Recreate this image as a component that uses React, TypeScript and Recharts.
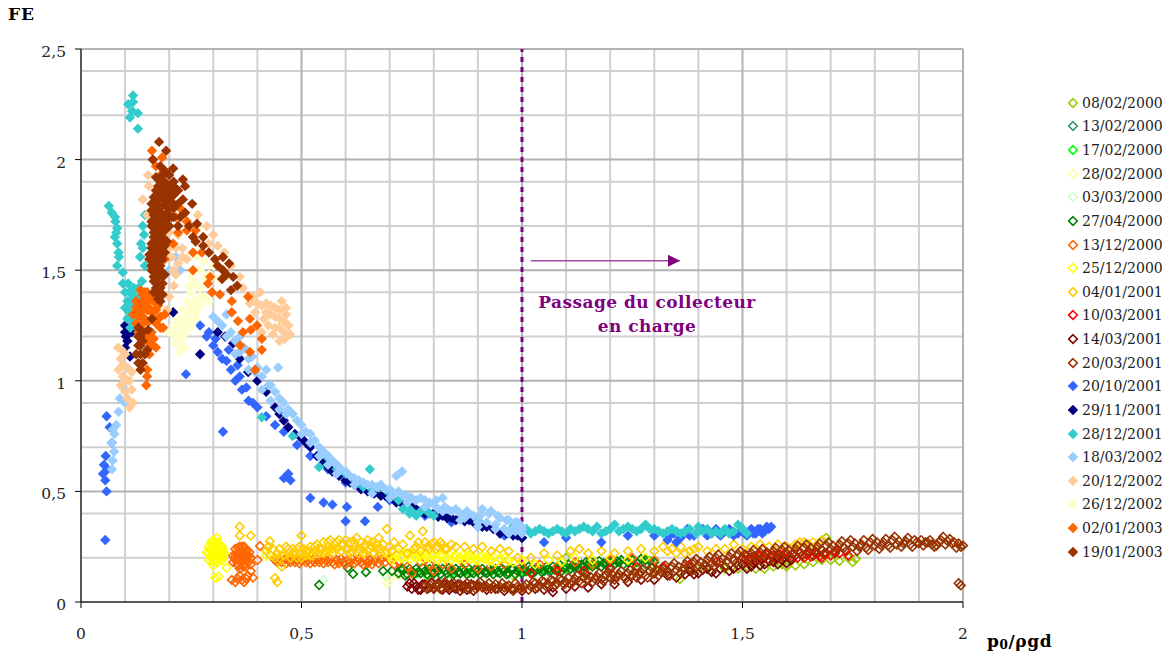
import { CartesianGrid, Legend, ReferenceLine, Scatter, ScatterChart, XAxis, YAxis } from "recharts";

type Pt = [number, number];

const xTicks = [0, 0.5, 1, 1.5, 2];
const yTicks = [0, 0.5, 1, 1.5, 2, 2.5];
const minorX = [0.1, 0.2, 0.3, 0.4, 0.6, 0.7, 0.8, 0.9, 1.1, 1.2, 1.3, 1.4, 1.6, 1.7, 1.8, 1.9];
const minorY = [0.1, 0.2, 0.3, 0.4, 0.6, 0.7, 0.8, 0.9, 1.1, 1.2, 1.3, 1.4, 1.6, 1.7, 1.8, 1.9, 2.1, 2.2, 2.3, 2.4];

const d080200: Pt[] = [[0.98,.12],[1.02,.13],[1.08,.14],[1.1,.2],[1.14,.13],[1.2,.15],[1.26,.15],[1.3,.14],[1.358,.104],[1.4,.15],[1.43,.14],[1.46,.15],[1.49,.15],[1.51,.16],[1.53,.15],[1.55,.15],[1.57,.16],[1.59,.17],[1.6,.16],[1.62,.165],[1.64,.17],[1.66,.18],[1.68,.19],[1.69,.29],[1.7,.19],[1.72,.185],[1.74,.2],[1.757,.195],[1.75,.18]];
const d130200: Pt[] = [[0.8,.14],[0.86,.13],[0.92,.14],[1,.13],[1.06,.14],[1.12,.15],[1.2,.16],[1.28,.17]];
const d170200: Pt[] = [[0.73,.14],[0.76,.13],[0.785,.12],[0.8,.13],[0.84,.125],[0.88,.13],[0.94,.14],[1,.14],[1.05,.15],[1.1,.15],[1.15,.16]];
const d280200: Pt[] = [[0.36,.22],[0.42,.21],[0.5,.22],[0.6,.21],[0.695,.085],[0.7,.11],[0.72,.12],[0.78,.19],[0.86,.19],[0.94,.18],[1,.18]];
const d030300: Pt[] = [[0.55,.1],[0.69,.12],[0.72,.14],[0.78,.12],[0.83,.13],[0.88,.12],[0.93,.13],[0.97,.12],[1.02,.13]];
const d270400: Pt[] = [[0.54,.077],[0.605,.155],[0.617,.127],[0.646,.135],[0.685,.14],[0.705,.14],[0.72,.13],[0.725,.15],[0.73,.15],[0.735,.12],[0.74,.125],[0.745,.15],[0.75,.14],[0.755,.125],[0.76,.15],[0.765,.135],[0.77,.13],[0.775,.155],[0.78,.14],[0.785,.125],[0.79,.15],[0.795,.135],[0.8,.13],[0.805,.15],[0.81,.14],[0.815,.125],[0.82,.15],[0.825,.14],[0.83,.13],[0.835,.155],[0.84,.14],[0.845,.125],[0.85,.15],[0.855,.135],[0.86,.13],[0.865,.15],[0.87,.14],[0.875,.125],[0.88,.15],[0.885,.135],[0.89,.13],[0.895,.15],[0.9,.14],[0.905,.125],[0.91,.15],[0.915,.135],[0.92,.13],[0.925,.15],[0.93,.14],[0.935,.125],[0.94,.15],[0.945,.135],[0.95,.13],[0.955,.15],[0.96,.14],[0.965,.125],[0.97,.13],[0.975,.15],[0.98,.15],[0.985,.125],[0.99,.14],[0.995,.15],[1,.13],[1.005,.15],[1.01,.14],[1.015,.16],[1.02,.15],[1.025,.13],[1.03,.14],[1.035,.16],[1.04,.15],[1.045,.135],[1.05,.14],[1.055,.16],[1.06,.15],[1.065,.14],[1.07,.16],[1.075,.145],[1.08,.15],[1.085,.17],[1.09,.14],[1.095,.155],[1.1,.16],[1.105,.17],[1.11,.15],[1.115,.165],[1.12,.16],[1.125,.175],[1.13,.15],[1.135,.17],[1.14,.16],[1.145,.18],[1.15,.17],[1.155,.185],[1.16,.16],[1.165,.18],[1.17,.17],[1.175,.185],[1.18,.16],[1.185,.175],[1.19,.17],[1.195,.185],[1.2,.18],[1.205,.19],[1.21,.17],[1.215,.185],[1.22,.18],[1.225,.19],[1.23,.17],[1.24,.18],[1.25,.19],[1.26,.18],[1.27,.195],[1.28,.19],[1.29,.185],[1.3,.18]];
const d131200: Pt[] = [[0.342,.1],[0.35,.09],[0.36,.12],[0.365,.1],[0.37,.09],[0.378,.12],[0.385,.14],[0.39,.11],[0.375,.105],[0.355,.105],[0.345,.18],[0.345,.21],[0.35,.24],[0.35,.19],[0.355,.17],[0.355,.22],[0.36,.2],[0.36,.25],[0.365,.18],[0.365,.23],[0.37,.16],[0.37,.21],[0.37,.25],[0.375,.19],[0.375,.23],[0.38,.18],[0.38,.21],[0.385,.2],[0.385,.17],[0.36,.15],[0.352,.215],[0.358,.19],[0.362,.225],[0.368,.195],[0.372,.175],[0.378,.205],[0.382,.225],[0.348,.2],[0.356,.245],[0.366,.25],[0.374,.21],[0.366,.165],[0.358,.165],[0.4,.19],[0.406,.253],[0.44,.19],[0.445,.18],[0.45,.195],[0.455,.18],[0.46,.19],[0.465,.175],[0.47,.19],[0.475,.18],[0.48,.195],[0.485,.18],[0.49,.19],[0.495,.175],[0.5,.185],[0.505,.195],[0.51,.18],[0.515,.19],[0.52,.175],[0.525,.19],[0.53,.18],[0.535,.195],[0.54,.18],[0.545,.19],[0.55,.175],[0.555,.19],[0.56,.18],[0.565,.195],[0.57,.18],[0.575,.17],[0.58,.19],[0.585,.175],[0.59,.195],[0.595,.18],[0.6,.17],[0.605,.19],[0.61,.18],[0.615,.195],[0.62,.175],[0.625,.185],[0.63,.195],[0.635,.18],[0.64,.17],[0.645,.19],[0.65,.175],[0.655,.19],[0.66,.17],[0.665,.185],[0.67,.195],[0.675,.175],[0.68,.19],[0.69,.18],[0.7,.19],[0.71,.17],[0.72,.18],[0.74,.16],[0.75,.13],[0.77,.18],[0.79,.17],[0.8,.14],[0.82,.17],[0.84,.15],[0.87,.17],[0.9,.15],[0.93,.16],[0.96,.17],[1,.16],[1.04,.17],[1.08,.16],[1.12,.18],[1.16,.17],[1.2,.19],[1.25,.2],[1.3,.19]];
const d251200: Pt[] = [[0.285,.225],[0.29,.19],[0.29,.22],[0.29,.25],[0.295,.21],[0.295,.24],[0.295,.27],[0.3,.18],[0.3,.2],[0.3,.23],[0.3,.26],[0.3,.28],[0.305,.19],[0.305,.22],[0.305,.25],[0.305,.27],[0.308,.29],[0.31,.18],[0.31,.21],[0.31,.24],[0.31,.27],[0.315,.2],[0.315,.23],[0.315,.26],[0.32,.19],[0.32,.22],[0.32,.25],[0.325,.22],[0.298,.225],[0.302,.215],[0.303,.245],[0.307,.205],[0.307,.235],[0.312,.195],[0.312,.225],[0.312,.255],[0.317,.215],[0.317,.245],[0.322,.205],[0.322,.235],[0.293,.235],[0.297,.195],[0.33,.155],[0.3,.165],[0.304,.11],[0.312,.115],[0.42,.21],[0.48,.22],[0.56,.23],[0.64,.22],[0.7,.21],[0.705,.19],[0.71,.2],[0.715,.215],[0.72,.22],[0.725,.2],[0.73,.2],[0.735,.22],[0.74,.21],[0.745,.195],[0.75,.22],[0.755,.205],[0.76,.2],[0.765,.215],[0.77,.21],[0.775,.195],[0.78,.22],[0.785,.205],[0.79,.2],[0.795,.215],[0.8,.21],[0.805,.195],[0.81,.19],[0.815,.21],[0.82,.21],[0.825,.195],[0.83,.2],[0.835,.215],[0.84,.19],[0.845,.205],[0.85,.21],[0.855,.195],[0.86,.2],[0.865,.21],[0.87,.19],[0.875,.205],[0.88,.21],[0.885,.195],[0.89,.2],[0.895,.19],[0.9,.19],[0.905,.205],[0.91,.21],[0.915,.195],[0.92,.2],[0.925,.185],[0.93,.19],[0.935,.205],[0.94,.18],[0.95,.195],[0.96,.2],[0.97,.185],[0.98,.18],[1,.19],[1.03,.17],[1.06,.19],[1.09,.18],[1.12,.2],[1.16,.19],[1.2,.2],[1.24,.19],[1.28,.2]];
const d040101: Pt[] = [[0.36,.34],[0.36,.3],[0.385,.3],[0.5,.3],[0.694,.33],[0.746,.3],[0.775,.32],[0.44,.108],[0.445,.09],[0.428,.275],[0.42,.23],[0.425,.25],[0.43,.21],[0.435,.24],[0.44,.2],[0.445,.22],[0.45,.24],[0.455,.16],[0.45,.2],[0.46,.21],[0.465,.25],[0.47,.22],[0.47,.24],[0.475,.2],[0.48,.24],[0.48,.22],[0.485,.22],[0.49,.2],[0.49,.24],[0.495,.25],[0.5,.22],[0.5,.2],[0.505,.24],[0.51,.21],[0.51,.23],[0.515,.23],[0.52,.25],[0.52,.21],[0.525,.21],[0.53,.23],[0.53,.25],[0.535,.26],[0.54,.22],[0.54,.24],[0.545,.24],[0.55,.27],[0.55,.22],[0.555,.23],[0.56,.25],[0.56,.27],[0.565,.28],[0.57,.22],[0.57,.24],[0.575,.26],[0.58,.24],[0.58,.27],[0.585,.28],[0.59,.23],[0.59,.26],[0.595,.26],[0.6,.28],[0.6,.24],[0.605,.24],[0.61,.27],[0.61,.22],[0.615,.23],[0.62,.25],[0.62,.27],[0.625,.29],[0.63,.24],[0.63,.22],[0.635,.27],[0.64,.22],[0.64,.25],[0.645,.26],[0.65,.28],[0.65,.23],[0.655,.24],[0.66,.27],[0.66,.25],[0.665,.22],[0.67,.26],[0.67,.24],[0.675,.29],[0.68,.24],[0.68,.22],[0.685,.26],[0.69,.22],[0.7,.25],[0.705,.23],[0.71,.27],[0.72,.24],[0.73,.26],[0.74,.22],[0.755,.24],[0.76,.25],[0.765,.27],[0.77,.23],[0.78,.27],[0.785,.25],[0.79,.24],[0.795,.26],[0.8,.27],[0.805,.24],[0.81,.25],[0.815,.27],[0.82,.26],[0.825,.24],[0.83,.24],[0.84,.26],[0.85,.25],[0.87,.25],[0.89,.24],[0.91,.25],[0.93,.23],[0.95,.24],[0.97,.23],[0.99,.2],[1.02,.2],[1.05,.22],[1.08,.21],[1.11,.23],[1.13,.24],[1.15,.22],[1.18,.23],[1.21,.22],[1.24,.23],[1.27,.24],[1.3,.23],[1.32,.25],[1.33,.23],[1.34,.24],[1.35,.22],[1.36,.25],[1.37,.22],[1.38,.23],[1.39,.24],[1.4,.25],[1.42,.23],[1.44,.24],[1.46,.24],[1.48,.26],[1.5,.24],[1.52,.25],[1.54,.26],[1.56,.25],[1.58,.26],[1.6,.25],[1.62,.26],[1.63,.27],[1.64,.27],[1.65,.26],[1.66,.27],[1.67,.26],[1.68,.28]];
const d100301: Pt[] = [[1.02,.13],[1.08,.14],[1.14,.14],[1.2,.15],[1.26,.16],[1.32,.16],[1.38,.17],[1.44,.18],[1.48,.19],[1.5,.2],[1.505,.19],[1.51,.21],[1.515,.19],[1.52,.2],[1.525,.205],[1.53,.19],[1.535,.21],[1.54,.21],[1.545,.195],[1.55,.2],[1.555,.215],[1.56,.19],[1.565,.205],[1.57,.21],[1.575,.2],[1.58,.2],[1.585,.215],[1.59,.21],[1.595,.2],[1.6,.22],[1.605,.205],[1.61,.2],[1.615,.22],[1.62,.21],[1.625,.2],[1.63,.22],[1.635,.21],[1.64,.2],[1.645,.215],[1.65,.22],[1.655,.205],[1.66,.21],[1.665,.22],[1.67,.22],[1.675,.205],[1.68,.2],[1.685,.215],[1.69,.22],[1.7,.21],[1.71,.23],[1.72,.22],[1.74,.21]];
const d140301: Pt[] = [[0.74,.07],[0.745,.085],[0.75,.06],[0.755,.085],[0.76,.07],[0.765,.055],[0.77,.055],[0.775,.08],[0.78,.08],[0.785,.06],[0.79,.065],[0.795,.085],[0.8,.06],[0.805,.075],[0.81,.085],[0.815,.06],[0.82,.055],[0.825,.08],[0.83,.07],[0.835,.055],[0.84,.08],[0.845,.065],[0.85,.06],[0.855,.08],[0.86,.05],[0.865,.07],[0.87,.075],[0.875,.055],[0.88,.06],[0.885,.08],[0.89,.05],[0.9,.07],[0.92,.055],[0.94,.06],[0.96,.05],[0.98,.06],[1,.05],[1.03,.06],[1.05,.055],[1.07,.045],[1.07,.065],[1.1,.06],[1.12,.07],[1.15,.065],[1.18,.08],[1.21,.08],[1.24,.09],[1.27,.1],[1.3,.1],[1.33,.12],[1.35,.11],[1.36,.13],[1.37,.125],[1.38,.14],[1.39,.125],[1.4,.13],[1.41,.145],[1.42,.15],[1.43,.135],[1.44,.13],[1.45,.15],[1.46,.16],[1.47,.14],[1.48,.15],[1.49,.165],[1.5,.17],[1.51,.15],[1.52,.16],[1.525,.175],[1.53,.18],[1.54,.165],[1.55,.17],[1.56,.185],[1.57,.18],[1.58,.17],[1.59,.19],[1.6,.175],[1.61,.19]];
const d200301: Pt[] = [[0.78,.07],[0.785,.06],[0.79,.08],[0.795,.09],[0.8,.065],[0.805,.075],[0.81,.075],[0.815,.06],[0.82,.06],[0.825,.09],[0.83,.08],[0.835,.065],[0.84,.07],[0.845,.085],[0.85,.065],[0.855,.075],[0.86,.08],[0.865,.06],[0.87,.07],[0.875,.085],[0.88,.06],[0.885,.07],[0.89,.075],[0.895,.06],[0.9,.08],[0.905,.09],[0.91,.065],[0.915,.07],[0.92,.07],[0.925,.085],[0.93,.06],[0.935,.07],[0.94,.08],[0.945,.06],[0.95,.07],[0.955,.085],[0.96,.065],[0.965,.07],[0.97,.075],[0.975,.06],[0.98,.05],[0.985,.085],[0.99,.07],[0.995,.06],[1,.065],[1.005,.07],[1.01,.08],[1.015,.055],[1.02,.07],[1.025,.09],[1.03,.085],[1.035,.065],[1.04,.075],[1.045,.095],[1.05,.09],[1.055,.07],[1.06,.08],[1.065,.1],[1.07,.095],[1.075,.075],[1.08,.085],[1.085,.105],[1.09,.1],[1.095,.08],[1.1,.09],[1.105,.11],[1.11,.08],[1.115,.09],[1.12,.105],[1.125,.12],[1.13,.095],[1.135,.085],[1.14,.11],[1.145,.125],[1.15,.1],[1.155,.115],[1.16,.09],[1.165,.105],[1.17,.115],[1.175,.13],[1.18,.105],[1.185,.095],[1.19,.12],[1.195,.135],[1.2,.11],[1.205,.125],[1.21,.1],[1.215,.115],[1.22,.125],[1.225,.14],[1.23,.115],[1.235,.105],[1.24,.13],[1.245,.145],[1.25,.12],[1.255,.135],[1.26,.11],[1.265,.125],[1.27,.135],[1.275,.15],[1.28,.12],[1.285,.11],[1.29,.14],[1.295,.155],[1.3,.13],[1.305,.145],[1.31,.12],[1.315,.135],[1.32,.15],[1.325,.165],[1.33,.135],[1.335,.12],[1.34,.16],[1.345,.175],[1.35,.145],[1.355,.16],[1.36,.13],[1.365,.15],[1.37,.17],[1.375,.185],[1.38,.155],[1.385,.14],[1.39,.18],[1.395,.195],[1.4,.165],[1.405,.18],[1.41,.15],[1.415,.17],[1.42,.19],[1.425,.205],[1.43,.175],[1.435,.16],[1.44,.2],[1.445,.215],[1.45,.18],[1.455,.195],[1.46,.16],[1.465,.185],[1.47,.205],[1.475,.22],[1.48,.19],[1.485,.175],[1.49,.215],[1.495,.23],[1.5,.2],[1.505,.215],[1.51,.18],[1.515,.2],[1.52,.22],[1.525,.235],[1.53,.205],[1.535,.19],[1.54,.225],[1.545,.24],[1.55,.21],[1.555,.225],[1.56,.19],[1.565,.21],[1.57,.23],[1.575,.245],[1.58,.215],[1.585,.2],[1.59,.235],[1.595,.25],[1.6,.22],[1.605,.235],[1.61,.2],[1.615,.22],[1.62,.24],[1.625,.255],[1.63,.225],[1.635,.21],[1.64,.245],[1.645,.26],[1.65,.23],[1.655,.245],[1.66,.21],[1.665,.23],[1.67,.25],[1.675,.265],[1.68,.235],[1.685,.22],[1.69,.255],[1.695,.27],[1.7,.24],[1.705,.255],[1.71,.22],[1.715,.24],[1.72,.26],[1.725,.275],[1.73,.245],[1.735,.23],[1.74,.265],[1.745,.28],[1.75,.25],[1.755,.265],[1.76,.23],[1.765,.25],[1.77,.26],[1.775,.28],[1.78,.245],[1.785,.235],[1.79,.27],[1.795,.285],[1.8,.255],[1.805,.27],[1.81,.24],[1.815,.255],[1.82,.27],[1.825,.285],[1.83,.255],[1.835,.245],[1.84,.28],[1.845,.295],[1.85,.26],[1.855,.275],[1.86,.25],[1.865,.265],[1.87,.275],[1.875,.29],[1.88,.26],[1.885,.25],[1.89,.28],[1.895,.27],[1.9,.265],[1.905,.28],[1.91,.255],[1.915,.27],[1.92,.27],[1.925,.28],[1.93,.26],[1.935,.25],[1.94,.255],[1.945,.27],[1.95,.28],[1.955,.295],[1.96,.26],[1.965,.275],[1.97,.285],[1.975,.265],[1.98,.27],[1.985,.245],[1.99,.265],[1.995,.25],[2,.255],[1.99,.085],[1.995,.075]];
const d201001: Pt[] = [[0.055,.28],[0.05,.58],[0.052,.62],[0.055,.55],[0.056,.66],[0.058,.5],[0.06,.6],[0.058,.84],[0.065,.79],[0.07,.72],[0.238,1.03],[0.322,.77],[0.27,1.25],[0.285,1.2],[0.29,1.22],[0.3,1.16],[0.305,1.19],[0.31,1.13],[0.32,1.1],[0.33,1.09],[0.335,1.14],[0.34,1.05],[0.35,1],[0.355,1.07],[0.36,1.02],[0.365,.96],[0.375,.97],[0.38,.91],[0.39,.9],[0.4,.88],[0.42,.84],[0.44,.8],[0.46,.77],[0.47,.58],[0.46,.56],[0.475,.55],[0.49,.71],[0.52,.47],[0.55,.45],[0.57,.44],[0.6,.365],[0.603,.43],[0.644,.365],[0.673,.43],[0.52,.66],[0.56,.6],[0.6,.54],[0.66,.5],[0.7,.46],[0.78,.39],[0.84,.36],[0.9,.34],[0.96,.3],[1,.29],[1.05,.27],[1.1,.29],[1.18,.27],[1.24,.3],[1.3,.3],[1.33,.28],[1.335,.3],[1.345,.31],[1.35,.27],[1.36,.29],[1.375,.33],[1.38,.3],[1.39,.3],[1.4,.32],[1.41,.33],[1.42,.3],[1.43,.31],[1.44,.33],[1.45,.3],[1.46,.32],[1.47,.33],[1.48,.3],[1.49,.31],[1.5,.33],[1.505,.31],[1.51,.3],[1.515,.32],[1.52,.33],[1.525,.31],[1.53,.31],[1.535,.33],[1.54,.33],[1.545,.31],[1.55,.32],[1.555,.34],[1.56,.33],[1.565,.34]];
const d291101: Pt[] = [[0.1,1.25],[0.102,1.2],[0.1,1.15],[0.105,1.18],[0.111,1.11],[0.115,1.22],[0.1,1.22],[0.209,1.31],[0.27,1.12],[0.31,1.22],[0.327,1.2],[0.345,1.17],[0.379,1.04],[0.36,1.1],[0.4,1],[0.42,.95],[0.44,.88],[0.45,.85],[0.46,.82],[0.47,.79],[0.485,.76],[0.5,.74],[0.51,.72],[0.52,.7],[0.535,.66],[0.55,.63],[0.56,.61],[0.57,.59],[0.585,.57],[0.6,.55],[0.61,.54],[0.62,.53],[0.635,.51],[0.65,.5],[0.665,.49],[0.68,.48],[0.69,.48],[0.7,.47],[0.715,.45],[0.73,.44],[0.74,.43],[0.75,.43],[0.76,.42],[0.77,.41],[0.78,.4],[0.79,.4],[0.8,.4],[0.81,.385],[0.82,.39],[0.83,.38],[0.84,.38],[0.85,.37],[0.86,.38],[0.87,.365],[0.88,.37],[0.89,.36],[0.9,.35],[0.91,.34],[0.92,.34],[0.935,.33],[0.95,.31],[0.965,.31],[0.98,.3],[0.99,.3],[1,.29]];
const d281201: Pt[] = [[0.118,2.29],[0.107,2.25],[0.118,2.26],[0.116,2.22],[0.129,2.21],[0.111,2.19],[0.129,2.14],[0.063,1.79],[0.07,1.76],[0.077,1.74],[0.082,1.69],[0.077,1.65],[0.082,1.62],[0.086,1.56],[0.082,1.52],[0.095,1.49],[0.095,1.44],[0.107,1.44],[0.145,1.75],[0.143,1.66],[0.136,1.62],[0.134,1.56],[0.145,1.52],[0.138,1.45],[0.14,1.6],[0.14,1.7],[0.08,1.67],[0.078,1.72],[0.085,1.58],[0.1,1.4],[0.105,1.36],[0.11,1.4],[0.115,1.37],[0.12,1.42],[0.125,1.38],[0.13,1.42],[0.135,1.38],[0.1,1.33],[0.11,1.31],[0.12,1.34],[0.13,1.33],[0.105,1.28],[0.115,1.27],[0.125,1.3],[0.108,1.34],[0.118,1.39],[0.128,1.36],[0.138,1.33],[0.112,1.24],[0.41,.835],[0.48,.75],[0.54,.61],[0.56,.65],[0.58,.6],[0.6,.58],[0.62,.55],[0.64,.52],[0.655,.6],[0.66,.51],[0.68,.52],[0.7,.49],[0.72,.46],[0.73,.42],[0.74,.43],[0.745,.4],[0.75,.41],[0.76,.39],[0.77,.41],[0.78,.42],[0.79,.4],[0.8,.39],[0.9,.37],[0.98,.34],[1,.32],[1.01,.33],[1.02,.31],[1.03,.32],[1.04,.33],[1.05,.32],[1.06,.31],[1.07,.32],[1.08,.33],[1.09,.32],[1.1,.31],[1.11,.33],[1.12,.32],[1.13,.33],[1.14,.34],[1.15,.33],[1.16,.32],[1.17,.34],[1.18,.31],[1.19,.32],[1.2,.33],[1.21,.35],[1.22,.32],[1.23,.33],[1.24,.34],[1.25,.33],[1.26,.32],[1.27,.33],[1.28,.35],[1.29,.33],[1.3,.33],[1.31,.32],[1.32,.31],[1.33,.32],[1.34,.33],[1.35,.32],[1.36,.31],[1.37,.32],[1.38,.33],[1.395,.31],[1.4,.34],[1.41,.32],[1.42,.33],[1.43,.31],[1.44,.32],[1.45,.31],[1.46,.33],[1.47,.31],[1.48,.32],[1.49,.35],[1.5,.33],[1.51,.31]];
const d180302: Pt[] = [[0.07,.6],[0.072,.64],[0.075,.68],[0.07,.72],[0.076,.76],[0.08,.8],[0.072,.78],[0.085,.86],[0.088,.92],[0.095,.97],[0.1,.9],[0.2,1.5],[0.215,1.56],[0.225,1.5],[0.3,1.29],[0.31,1.27],[0.32,1.25],[0.33,1.3],[0.34,1.22],[0.35,1.18],[0.36,1.2],[0.37,1.15],[0.35,1.12],[0.38,1.1],[0.388,1.11],[0.395,1.04],[0.4,1.06],[0.41,1.02],[0.42,1.05],[0.425,.98],[0.43,.98],[0.447,1.06],[0.44,.95],[0.45,.92],[0.46,.9],[0.465,.85],[0.47,.87],[0.48,.85],[0.49,.82],[0.5,.8],[0.51,.77],[0.52,.76],[0.53,.73],[0.54,.7],[0.55,.68],[0.56,.66],[0.57,.64],[0.58,.62],[0.59,.6],[0.6,.59],[0.61,.57],[0.62,.56],[0.63,.55],[0.64,.54],[0.65,.53],[0.66,.53],[0.67,.52],[0.68,.53],[0.69,.51],[0.7,.51],[0.71,.49],[0.715,.57],[0.72,.5],[0.728,.59],[0.73,.48],[0.74,.48],[0.75,.47],[0.76,.46],[0.77,.47],[0.78,.46],[0.79,.45],[0.8,.44],[0.805,.46],[0.81,.42],[0.82,.47],[0.825,.43],[0.83,.42],[0.84,.41],[0.85,.42],[0.86,.4],[0.87,.38],[0.875,.41],[0.88,.4],[0.89,.39],[0.9,.36],[0.905,.39],[0.91,.42],[0.92,.36],[0.925,.4],[0.93,.41],[0.94,.35],[0.945,.39],[0.95,.38],[0.96,.33],[0.965,.37],[0.97,.37],[0.98,.33],[0.985,.36],[0.99,.36],[1,.31],[1,.34],[0.33,1.2],[0.36,1.13],[0.38,1.05],[0.41,.96],[0.43,.91],[0.45,.87],[0.5,.76],[0.52,.72],[0.54,.66],[0.56,.62],[0.58,.58],[0.62,.53],[0.66,.49],[0.7,.47],[0.74,.45],[0.78,.43],[0.82,.41],[0.86,.37],[0.9,.34],[0.94,.33],[0.97,.31],[0.985,.32],[1,.33]];
const d201202: Pt[] = [[0.084,1.15],[0.09,1.1],[0.085,1.05],[0.095,1.02],[0.1,1.12],[0.105,1.06],[0.11,1],[0.09,.98],[0.1,.95],[0.105,.92],[0.115,.96],[0.11,.88],[0.118,.9],[0.095,1.07],[0.105,1],[0.115,1.04],[0.092,1.14],[0.152,1.93],[0.154,1.88],[0.14,1.82],[0.15,1.75],[0.2,1.67],[0.21,1.62],[0.22,1.66],[0.23,1.6],[0.205,1.56],[0.22,1.53],[0.24,1.55],[0.215,1.6],[0.23,1.56],[0.2,1.6],[0.21,1.5],[0.21,1.43],[0.195,1.32],[0.2,1.38],[0.215,1.48],[0.265,1.75],[0.285,1.7],[0.3,1.66],[0.31,1.61],[0.29,1.62],[0.325,1.58],[0.34,1.52],[0.36,1.47],[0.367,1.42],[0.383,1.35],[0.39,1.38],[0.395,1.31],[0.4,1.35],[0.406,1.4],[0.41,1.34],[0.415,1.28],[0.41,1.22],[0.42,1.35],[0.42,1.31],[0.43,1.3],[0.425,1.25],[0.43,1.34],[0.435,1.21],[0.44,1.33],[0.44,1.29],[0.44,1.24],[0.45,1.28],[0.45,1.32],[0.455,1.36],[0.46,1.22],[0.46,1.27],[0.465,1.3],[0.47,1.25],[0.465,1.33],[0.474,1.21],[0.45,1.18],[0.462,1.19],[0.45,1.24]];
const d261202: Pt[] = [[0.26,1.56],[0.28,1.54],[0.3,1.52],[0.27,1.5],[0.29,1.48],[0.31,1.46],[0.25,1.47],[0.26,1.44],[0.25,1.4],[0.27,1.42],[0.28,1.46],[0.24,1.36],[0.26,1.36],[0.28,1.38],[0.245,1.43],[0.25,1.34],[0.27,1.38],[0.23,1.32],[0.25,1.32],[0.27,1.34],[0.29,1.36],[0.24,1.31],[0.26,1.31],[0.22,1.28],[0.24,1.28],[0.26,1.28],[0.23,1.26],[0.25,1.25],[0.21,1.25],[0.225,1.23],[0.24,1.24],[0.2,1.22],[0.215,1.2],[0.23,1.19],[0.22,1.16],[0.215,1.17],[0.235,1.15],[0.225,1.13],[0.21,1.21],[0.235,1.21]];
const d020103: Pt[] = [[0.161,2.04],[0.163,2],[0.184,2.01],[0.17,1.97],[0.18,1.93],[0.209,1.62],[0.254,1.58],[0.274,1.58],[0.254,1.5],[0.293,1.47],[0.288,1.44],[0.297,1.4],[0.315,1.39],[0.342,1.36],[0.379,1.38],[0.342,1.31],[0.356,1.27],[0.383,1.28],[0.367,1.22],[0.399,1.25],[0.385,1.23],[0.41,1.19],[0.361,1.16],[0.383,1.13],[0.395,1.05],[0.41,1.14],[0.24,1.72],[0.26,1.68],[0.225,1.78],[0.2,1.7],[0.215,1.74],[0.22,1.67],[0.24,1.68],[0.19,1.55],[0.118,1.3],[0.125,1.26],[0.125,1.33],[0.125,1.36],[0.13,1.22],[0.13,1.29],[0.135,1.41],[0.135,1.35],[0.135,1.31],[0.135,1.25],[0.14,1.39],[0.14,1.36],[0.14,1.29],[0.14,1.26],[0.145,1.33],[0.145,1.22],[0.145,1.4],[0.15,1.4],[0.15,1.36],[0.15,1.32],[0.15,1.27],[0.155,1.27],[0.155,1.38],[0.155,1.33],[0.16,1.37],[0.16,1.31],[0.16,1.22],[0.165,1.31],[0.165,1.36],[0.17,1.26],[0.17,1.32],[0.175,1.34],[0.175,1.28],[0.18,1.29],[0.18,1.24],[0.186,1.24],[0.19,1.3],[0.15,1.18],[0.155,1.12],[0.15,1.05],[0.15,1.02],[0.148,.98],[0.16,1.16],[0.155,1.2],[0.165,1.19],[0.17,1.15]];
const d190103: Pt[] = [[0.177,2.08],[0.193,2.04],[0.163,2],[0.209,1.96],[0.231,1.91],[0.236,1.88],[0.231,1.82],[0.252,1.8],[0.236,1.76],[0.263,1.71],[0.254,1.65],[0.277,1.65],[0.277,1.61],[0.304,1.55],[0.322,1.56],[0.336,1.53],[0.322,1.5],[0.32,1.46],[0.345,1.47],[0.354,1.43],[0.34,1.41],[0.161,1.28],[0.152,1.23],[0.18,1.97],[0.19,1.95],[0.2,1.93],[0.185,1.93],[0.17,1.92],[0.18,1.9],[0.19,1.9],[0.2,1.88],[0.21,1.9],[0.215,1.87],[0.22,1.86],[0.175,1.88],[0.185,1.87],[0.195,1.87],[0.205,1.86],[0.17,1.86],[0.18,1.84],[0.19,1.85],[0.2,1.83],[0.21,1.84],[0.22,1.8],[0.165,1.83],[0.175,1.82],[0.185,1.82],[0.195,1.82],[0.205,1.81],[0.16,1.8],[0.17,1.8],[0.18,1.78],[0.19,1.8],[0.2,1.78],[0.21,1.78],[0.16,1.77],[0.17,1.77],[0.18,1.76],[0.195,1.76],[0.165,1.75],[0.175,1.74],[0.185,1.75],[0.195,1.73],[0.205,1.74],[0.16,1.72],[0.17,1.72],[0.18,1.72],[0.19,1.71],[0.16,1.7],[0.17,1.69],[0.18,1.7],[0.19,1.68],[0.2,1.7],[0.165,1.67],[0.175,1.67],[0.185,1.67],[0.165,1.65],[0.175,1.64],[0.185,1.65],[0.195,1.63],[0.16,1.62],[0.17,1.62],[0.18,1.62],[0.19,1.61],[0.16,1.6],[0.17,1.59],[0.18,1.6],[0.19,1.58],[0.155,1.57],[0.165,1.57],[0.175,1.57],[0.185,1.57],[0.155,1.55],[0.165,1.55],[0.175,1.54],[0.185,1.55],[0.16,1.52],[0.17,1.52],[0.18,1.52],[0.16,1.5],[0.17,1.49],[0.18,1.5],[0.19,1.48],[0.165,1.47],[0.175,1.47],[0.185,1.47],[0.165,1.45],[0.175,1.44],[0.185,1.44],[0.17,1.42],[0.18,1.42],[0.165,1.4],[0.175,1.39],[0.185,1.39],[0.18,1.36],[0.175,1.37],[0.21,1.74],[0.225,1.74],[0.22,1.7],[0.245,1.7],[0.26,1.63],[0.29,1.58],[0.31,1.52],[0.33,1.48],[0.13,1.24],[0.135,1.2],[0.13,1.2],[0.13,1.16],[0.14,1.22],[0.14,1.18],[0.125,1.12],[0.135,1.16],[0.135,1.12],[0.14,1.08],[0.13,1.08],[0.135,1.05],[0.145,1.12],[0.15,1.14]];

const seriesList = [
  { name: "08/02/2000", data: d080200, color: "#99cc00", solid: false },
  { name: "13/02/2000", data: d130200, color: "#339966", solid: false },
  { name: "17/02/2000", data: d170200, color: "#00ff00", solid: false },
  { name: "28/02/2000", data: d280200, color: "#ffff99", solid: false },
  { name: "03/03/2000", data: d030300, color: "#ccffcc", solid: false },
  { name: "27/04/2000", data: d270400, color: "#008000", solid: false },
  { name: "13/12/2000", data: d131200, color: "#ff6600", solid: false },
  { name: "25/12/2000", data: d251200, color: "#ffff00", solid: false },
  { name: "04/01/2001", data: d040101, color: "#ffcc00", solid: false },
  { name: "10/03/2001", data: d100301, color: "#ff0000", solid: false },
  { name: "14/03/2001", data: d140301, color: "#800000", solid: false },
  { name: "20/03/2001", data: d200301, color: "#993300", solid: false },
  { name: "20/10/2001", data: d201001, color: "#3366ff", solid: true },
  { name: "29/11/2001", data: d291101, color: "#000080", solid: true },
  { name: "28/12/2001", data: d281201, color: "#33cccc", solid: true },
  { name: "18/03/2002", data: d180302, color: "#99ccff", solid: true },
  { name: "20/12/2002", data: d201202, color: "#ffcc99", solid: true },
  { name: "26/12/2002", data: d261202, color: "#ffffcc", solid: true },
  { name: "02/01/2003", data: d020103, color: "#ff6600", solid: true },
  { name: "19/01/2003", data: d190103, color: "#993300", solid: true },
];

const serif = "'DejaVu Serif', serif";
const purple = "#800080";
const comma = (v: number) => String(v).replace(".", ",");

function Diamond({ cx, cy, color, solid }: any) {
  const r = solid ? 5.2 : 4.3;
  return (
    <path
      d={`M${cx},${cy - r}L${cx + r},${cy}L${cx},${cy + r}L${cx - r},${cy}Z`}
      fill={solid ? color : "none"}
      stroke={solid ? "none" : color}
      strokeWidth={1.6}
    />
  );
}

function LegendBox() {
  return (
    <div style={{ fontFamily: serif, fontSize: 14, color: "#222" }}>
      {seriesList.map((s) => (
        <div key={s.name} style={{ height: 23.63, display: "flex", alignItems: "center", whiteSpace: "nowrap" }}>
          <svg width={14} height={14}>
            <Diamond cx={5} cy={7} color={s.color} solid={s.solid} />
          </svg>
          {s.name}
        </div>
      ))}
    </div>
  );
}

const YTick = ({ x, y, payload }: any) => (
  <text x={x} y={y + 8} textAnchor="end" fontFamily={serif} fontSize={15.5} fill="#222">
    {comma(payload.value)}
  </text>
);

export default function App() {
  return (
    <div style={{ position: "absolute", left: 0, top: 0, width: 1171, height: 655, background: "#fff" }}>
      <ScatterChart width={1171} height={655} margin={{ top: 49, right: 208, bottom: 0, left: 0 }}>
        <defs>
          <marker id="arrowHead" markerUnits="userSpaceOnUse" markerWidth={13} markerHeight={13} refX={12} refY={6} orient="auto">
            <path d="M0,0L12,6L0,12Z" fill={purple} />
          </marker>
        </defs>
        <CartesianGrid horizontalValues={minorY} verticalValues={minorX} stroke="#cfcfcf" strokeWidth={2} />
        <CartesianGrid horizontalValues={yTicks} verticalValues={xTicks} stroke="#b2b2b2" strokeWidth={2} />
        <XAxis
          type="number"
          dataKey="x"
          domain={[0, 2]}
          ticks={xTicks}
          height={53}
          tickFormatter={comma}
          tick={{ fontFamily: serif, fontSize: 15.5, fill: "#222" }}
          tickSize={6}
          tickMargin={20}
          stroke="#000"
        />
        <YAxis
          type="number"
          dataKey="y"
          domain={[0, 2.5]}
          ticks={yTicks}
          width={81}
          tick={<YTick />}
          tickSize={6}
          tickMargin={9}
          stroke="#000"
        />
        <ReferenceLine x={1} stroke={purple} strokeWidth={3} strokeDasharray="5 5" />
        <ReferenceLine
          segment={[{ x: 1.02, y: 1.543 }, { x: 1.358, y: 1.543 }]}
          stroke="#a04ca0"
          strokeWidth={1.5}
          markerEnd="url(#arrowHead)"
        />
        {seriesList.map((s) => (
          <Scatter
            key={s.name}
            name={s.name}
            data={s.data.map(([x, y]) => ({ x, y }))}
            isAnimationActive={false}
            shape={(p: any) => <Diamond cx={p.cx} cy={p.cy} color={s.color} solid={s.solid} />}
          />
        ))}
        <Legend
          layout="vertical"
          align="center"
          verticalAlign="middle"
          content={() => <LegendBox />}
          wrapperStyle={{ left: 1068, top: 91, width: 103 }}
        />
        <text x={8} y={20} fontFamily={serif} fontWeight="bold" fontSize={17} letterSpacing={1} fill="#000">FE</text>
        <text x={987} y={647} fontFamily={serif} fontWeight="bold" fontSize={17} letterSpacing={0.6} fill="#000">
          p<tspan fontSize={12} dy={2}>0</tspan><tspan dy={-2}>/ρgd</tspan>
        </text>
        <text x={647} y={308} textAnchor="middle" fontFamily={serif} fontWeight="bold" fontSize={17} letterSpacing={0.45} fill={purple}>Passage du collecteur</text>
        <text x={647} y={332} textAnchor="middle" fontFamily={serif} fontWeight="bold" fontSize={17} letterSpacing={0.45} fill={purple}>en charge</text>
      </ScatterChart>
    </div>
  );
}
